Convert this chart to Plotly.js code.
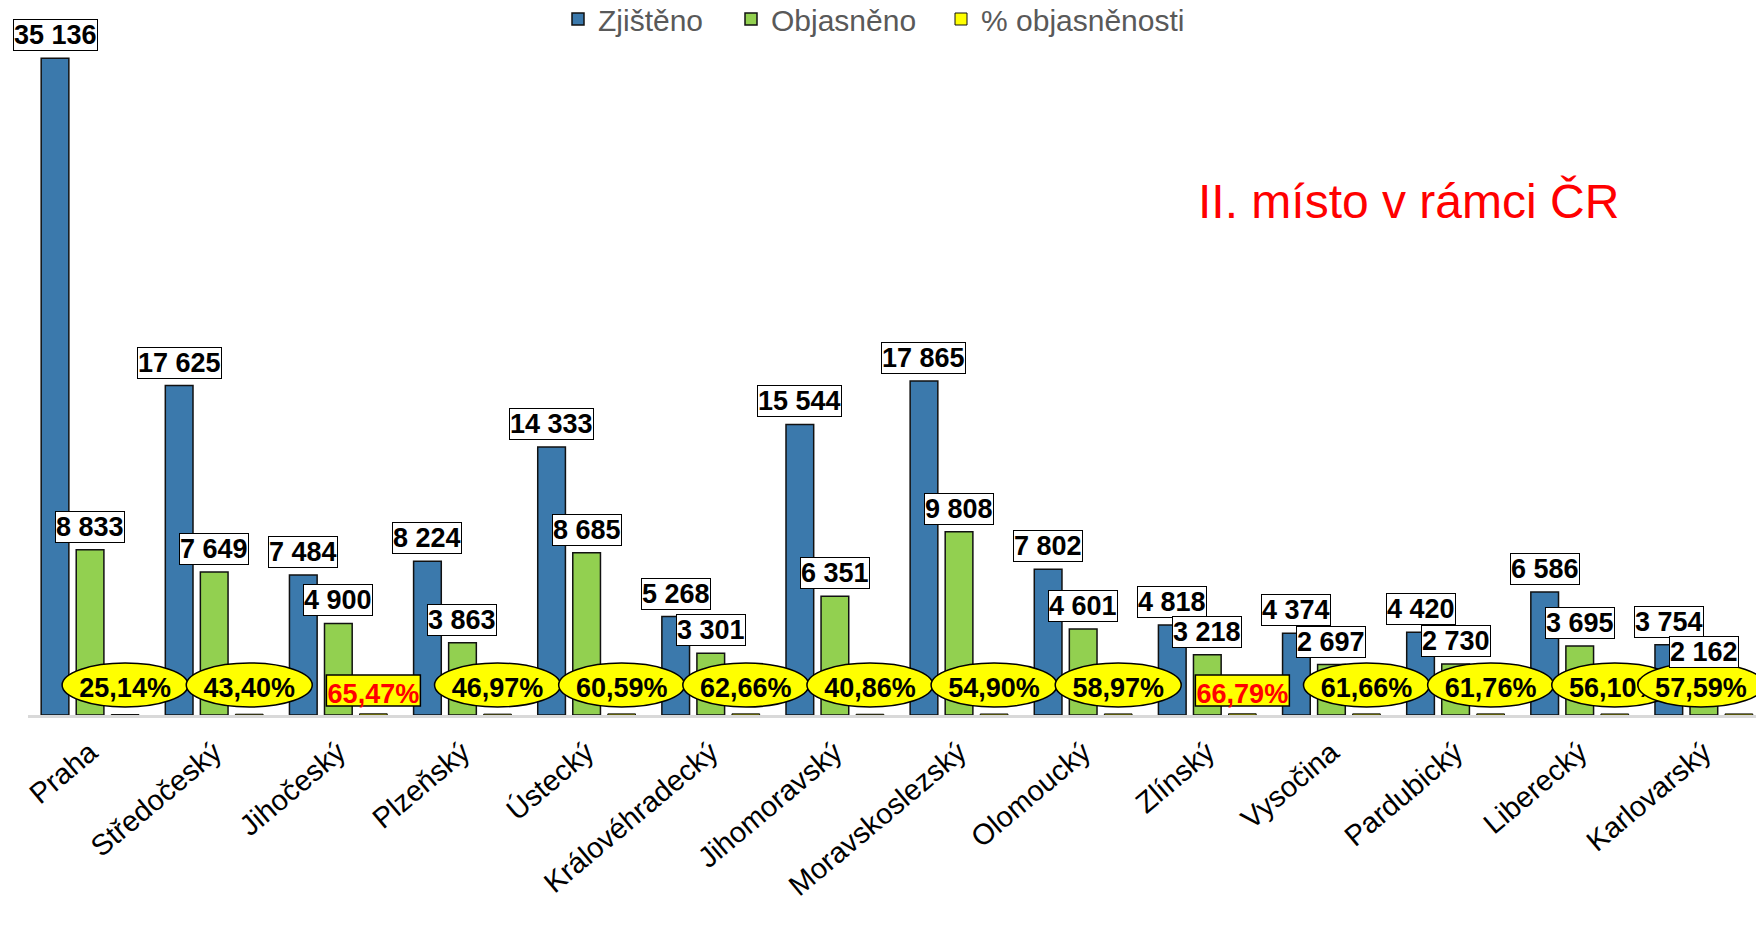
<!DOCTYPE html>
<html>
<head>
<meta charset="utf-8">
<script src="https://cdn.plot.ly/plotly-3.0.1.min.js"></script>
<style>html,body{margin:0;padding:0;background:#fff;}#chart{width:1756px;height:925px;}</style>
</head>
<body>
<div id="chart"></div>
<script>
// ---- data ----
const categories = ['Praha','Středočeský','Jihočeský','Plzeňský','Ústecký','Královéhradecký','Jihomoravský','Moravskoslezský','Olomoucký','Zlínský','Vysočina','Pardubický','Liberecký','Karlovarský'];
const zjisteno = [35136,17625,7484,8224,14333,5268,15544,17865,7802,4818,4374,4420,6586,3754];
const objasneno = [8833,7649,4900,3863,8685,3301,6351,9808,4601,3218,2697,2730,3695,2162];
const objasnenost = [25.14,43.40,65.47,46.97,60.59,62.66,40.86,54.90,58.97,66.79,61.66,61.76,56.10,57.59];
const highlighted = ['Jihočeský','Zlínský'];
const seriesNames = ['Zjištěno','Objasněno','% objasněnosti'];
const noteText = 'II. místo v rámci ČR';

// ---- styling / geometry ----
const FONT = 'Arial, "Liberation Sans", sans-serif';
const W = 1756, H = 925, M = {l:28, r:0, t:42, b:210};
const XR = [-0.5, 13.42], YR = [0, 36000];
const pxX = (XR[1]-XR[0]) / (W - M.l - M.r);   // category units per pixel
const pxY = (YR[1]-YR[0]) / (H - M.t - M.b);   // value units per pixel
const BARGAP = 0.153;
const slot = (1 - BARGAP) / 3;   // bar slot width in category units
const pctLabelNudge = {'Karlovarský': -38}; // label pushed inside the chart edge (px)

function fmtNum(v){ return String(v).replace(/\B(?=(\d{3})+(?!\d))/g, '\u00a0'); }
function fmtPct(v){ return v.toFixed(2).replace('.', ',') + '%'; }

const barLine = {color:'#111', width:1.5};
const traces = [
  {type:'bar', name:seriesNames[0], x:categories, y:zjisteno, marker:{color:'#3B79AC', line:barLine}, legendwidth:128, hoverinfo:'x+y'},
  {type:'bar', name:seriesNames[1], x:categories, y:objasneno, marker:{color:'#92D050', line:barLine}, legendwidth:165, hoverinfo:'x+y'},
  {type:'bar', name:seriesNames[2], x:categories, y:objasnenost, marker:{color:'#FFFF00', line:{color:'#111', width:1}}, hoverinfo:'x+y'}
];

const annotations = [];
const shapes = [];
function valueLabel(i, off, v){
  annotations.push({x:i+off, y:v, xref:'x', yref:'y', yanchor:'bottom', xanchor:'center', yshift:7,
    text:'<b>'+fmtNum(v)+'</b>', showarrow:false, font:{family:FONT, size:27, color:'#000'},
    bgcolor:'#fff', bordercolor:'#000', borderwidth:1, borderpad:0});
}
zjisteno.forEach((v,i)=>valueLabel(i,-slot,v));
objasneno.forEach((v,i)=>valueLabel(i,0,v));
objasnenost.forEach((v,i)=>{
  const hl = highlighted.includes(categories[i]);
  const cx = i + slot + (pctLabelNudge[categories[i]] || 0) * pxX;
  const hw = hl ? 47 : 63;                 // half width, px
  const y0 = hl ? 9 : 8, y1 = hl ? 40 : 52; // px above baseline
  shapes.push({type: hl ? 'rect' : 'circle', xref:'x', yref:'y',
    x0: cx - hw*pxX, x1: cx + hw*pxX, y0: y0*pxY, y1: y1*pxY,
    fillcolor:'#FFFF00', line:{color:'#000', width:1.5}, layer:'above',
    label:{text: fmtPct(v), textposition:'middle center', padding:0,
      font:{family:FONT, size:27, weight:'bold', color: hl ? '#FF0000' : '#000'}}});
});
annotations.push({x:(1408-M.l)/(W-M.l-M.r), y:(715-201)/(H-M.t-M.b), xref:'paper', yref:'paper', xanchor:'center', yanchor:'middle',
  text:noteText, showarrow:false, font:{family:FONT, size:48, color:'#FF0000'}});

const layout = {
  width:W, height:H,
  margin:Object.assign({autoexpand:false}, M),
  paper_bgcolor:'#fff', plot_bgcolor:'#fff',
  barmode:'group', bargap:BARGAP, bargroupgap:0.21,
  font:{family:FONT},
  showlegend:true,
  legend:{orientation:'h', xref:'container', yref:'paper', x:558/W, xanchor:'left', y:1 + 49/(H-M.t-M.b), yanchor:'top',
    font:{family:FONT, size:30, color:'#595959'}, itemwidth:30, bgcolor:'rgba(0,0,0,0)'},
  xaxis:{type:'category', range:XR, tickangle:-40, tickfont:{family:FONT, size:29, color:'#000'}, ticklabelstandoff:6,
    showline:true, linecolor:'#D9D9D9', linewidth:3, ticks:'', showgrid:false, zeroline:false, fixedrange:true},
  yaxis:{range:YR, visible:false, showgrid:false, zeroline:false, fixedrange:true},
  annotations:annotations,
  shapes:shapes
};
Plotly.newPlot('chart', traces, layout, {displayModeBar:false, staticPlot:true});
</script>
</body>
</html>
